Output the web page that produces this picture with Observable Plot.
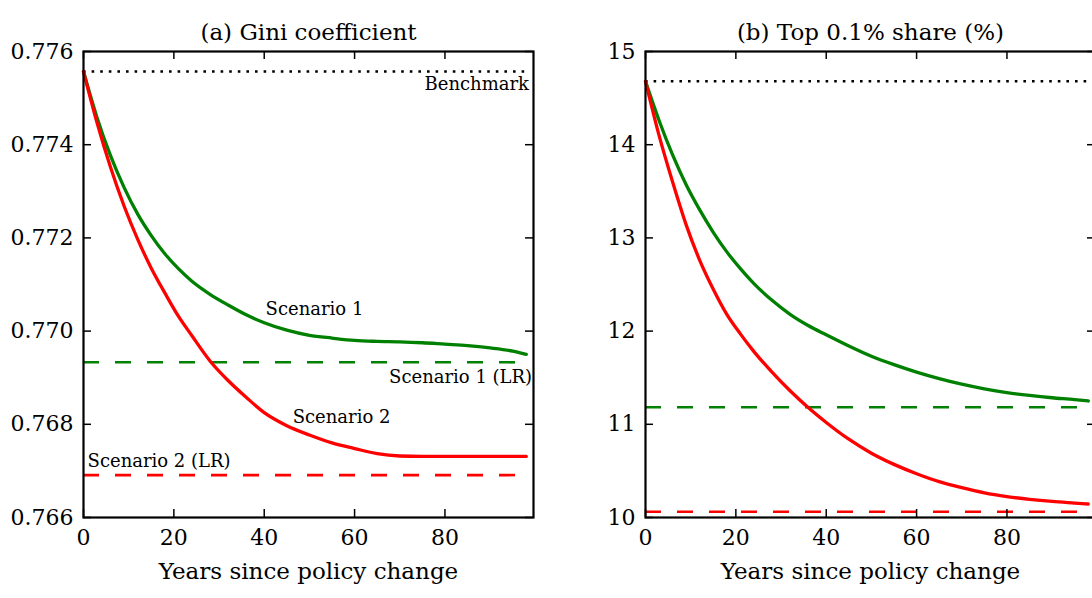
<!DOCTYPE html>
<html><head><meta charset="utf-8">
<script src="https://cdn.jsdelivr.net/npm/d3@7"></script>
<script src="https://cdn.jsdelivr.net/npm/@observablehq/plot@0.6"></script>
<style>
html,body{margin:0;padding:0;background:#fff;}
#wrap{position:relative;width:1092px;height:598px;overflow:hidden;background:#fff;}
#left,#right{position:absolute;top:0;}
#left{left:0;width:546px}
#right{left:546px;width:562px}
#wrap svg{max-width:none !important;height:598px !important;display:block;}
</style></head><body>
<div id="wrap"><div id="left"></div><div id="right"></div></div>
<script>
// ---- data ----
const years  = [0, 3, 6, 9, 12, 15, 18, 21, 24, 28, 32, 36, 40, 45, 50, 55, 60, 65, 70, 75, 80, 85, 90, 95, 98];
const giniS1 = [0.77557, 0.77458, 0.77376, 0.77308, 0.77251, 0.77205, 0.77166, 0.77134, 0.77107, 0.77079, 0.77056, 0.77035, 0.77018, 0.77002, 0.76991, 0.76985, 0.76980, 0.76978, 0.76977, 0.76975, 0.76972, 0.76969, 0.76964, 0.76957, 0.76950];
const giniS2 = [0.77557, 0.77447, 0.77351, 0.77268, 0.77197, 0.77135, 0.77082, 0.77032, 0.76990, 0.76936, 0.76894, 0.76858, 0.76825, 0.76797, 0.76777, 0.76760, 0.76748, 0.76737, 0.76732, 0.76731, 0.76731, 0.76731, 0.76731, 0.76731, 0.76731];
const topS1  = [14.68, 14.26, 13.89, 13.57, 13.30, 13.06, 12.85, 12.67, 12.51, 12.33, 12.18, 12.06, 11.96, 11.84, 11.73, 11.64, 11.56, 11.49, 11.43, 11.38, 11.34, 11.31, 11.285, 11.265, 11.25];
const topS2  = [14.68, 14.10, 13.60, 13.14, 12.76, 12.45, 12.18, 11.97, 11.78, 11.56, 11.36, 11.18, 11.02, 10.84, 10.69, 10.57, 10.47, 10.385, 10.32, 10.265, 10.225, 10.195, 10.172, 10.155, 10.145];

const giniRef = {benchmark: 0.77557, s1LR: 0.76933, s2LR: 0.76691};
const topRef  = {benchmark: 14.68, s1LR: 11.183, s2LR: 10.062};
const refSpan = [0, 98];

const xTicks    = [0, 20, 40, 60, 80];
const giniTicks = [0.766, 0.768, 0.770, 0.772, 0.774, 0.776];
const topTicks  = [10, 11, 12, 13, 14, 15];

const giniLabels      = ["Benchmark", "Scenario 1", "Scenario 1 (LR)", "Scenario 2", "Scenario 2 (LR)"];
const giniLabelX      = [98.6, 40.3, 99.3, 46.3, 0.9];
const giniLabelY      = [0.77529, 0.77046, 0.76900, 0.76816, 0.76720];
const giniLabelAnchor = ["end", "start", "end", "start", "start"];

const titles = ["(a) Gini coefficient", "(b) Top 0.1% share (%)"];
const xLabel = "Years since policy change";

// ---- drawing ----
const GREEN = "#008000", RED = "#ff0000";
const H = 598, MT = 51, MB = 81, FW = 450, FH = H - MT - MB, TICK = 8;

function panel({title, s1, s2, ref, yDomain, yTicks, fmt, labels, marginLeft}) {
  const rows1 = years.map((x, i) => ({x, v: s1[i]}));
  const rows2 = years.map((x, i) => ({x, v: s2[i]}));
  const marks = [
    Plot.ruleY([ref.benchmark], {x1: refSpan[0], x2: refSpan[1], stroke: "black", strokeWidth: 2.6, strokeDasharray: "2.6,6"}),
    Plot.ruleY([ref.s1LR], {x1: refSpan[0], x2: refSpan[1], stroke: GREEN, strokeWidth: 2.6, strokeDasharray: "16,16"}),
    Plot.ruleY([ref.s2LR], {x1: refSpan[0], x2: refSpan[1], stroke: RED, strokeWidth: 2.6, strokeDasharray: "16,16"}),
    Plot.line(rows1, {x: "x", y: "v", stroke: GREEN, strokeWidth: 3.3, curve: "monotone-x"}),
    Plot.line(rows2, {x: "x", y: "v", stroke: RED, strokeWidth: 3.3, curve: "monotone-x"}),
    // inward ticks on all four sides
    Plot.tickX(xTicks, {x: d => d, insetTop: FH - TICK, stroke: "black", strokeWidth: 1.5}),
    Plot.tickX(xTicks, {x: d => d, insetBottom: FH - TICK, stroke: "black", strokeWidth: 1.5}),
    Plot.tickY(yTicks, {y: d => d, insetRight: FW - TICK, stroke: "black", strokeWidth: 1.5}),
    Plot.tickY(yTicks, {y: d => d, insetLeft: FW - TICK, stroke: "black", strokeWidth: 1.5}),
    Plot.frame({stroke: "black", strokeWidth: 2.2}),
    Plot.axisX(xTicks, {tickSize: 0, tickPadding: 12, fontSize: 22, tickFormat: d => d, label: null}),
    Plot.axisY(yTicks, {tickSize: 0, tickPadding: 10, fontSize: 22, tickFormat: fmt, label: null}),
    Plot.text([title], {frameAnchor: "top", dy: -28, fontSize: 23, text: d => d}),
    Plot.text([xLabel], {frameAnchor: "bottom", dy: 61, fontSize: 23, text: d => d})
  ];
  if (labels) {
    labels.text.forEach((t, i) => {
      marks.push(Plot.text([t], {x: () => labels.x[i], y: () => labels.y[i], text: d => d,
        textAnchor: labels.anchor[i], fontSize: 18}));
    });
  }
  return Plot.plot({
    width: marginLeft + FW + 13,
    height: H,
    marginLeft, marginRight: 13, marginTop: MT, marginBottom: MB,
    style: {fontFamily: "DejaVu Serif", background: "white", color: "black", overflow: "visible"},
    x: {domain: [0, 99.6]},
    y: {domain: yDomain},
    marks
  });
}

document.getElementById("left").appendChild(panel({
  title: titles[0], s1: giniS1, s2: giniS2, ref: giniRef,
  yDomain: [giniTicks[0], giniTicks[giniTicks.length - 1]], yTicks: giniTicks,
  fmt: d3.format(".3f"),
  labels: {text: giniLabels, x: giniLabelX, y: giniLabelY, anchor: giniLabelAnchor},
  marginLeft: 83
}));
document.getElementById("right").appendChild(panel({
  title: titles[1], s1: topS1, s2: topS2, ref: topRef,
  yDomain: [topTicks[0], topTicks[topTicks.length - 1]], yTicks: topTicks,
  fmt: d => d, labels: null, marginLeft: 99
}));
</script>
</body></html>
